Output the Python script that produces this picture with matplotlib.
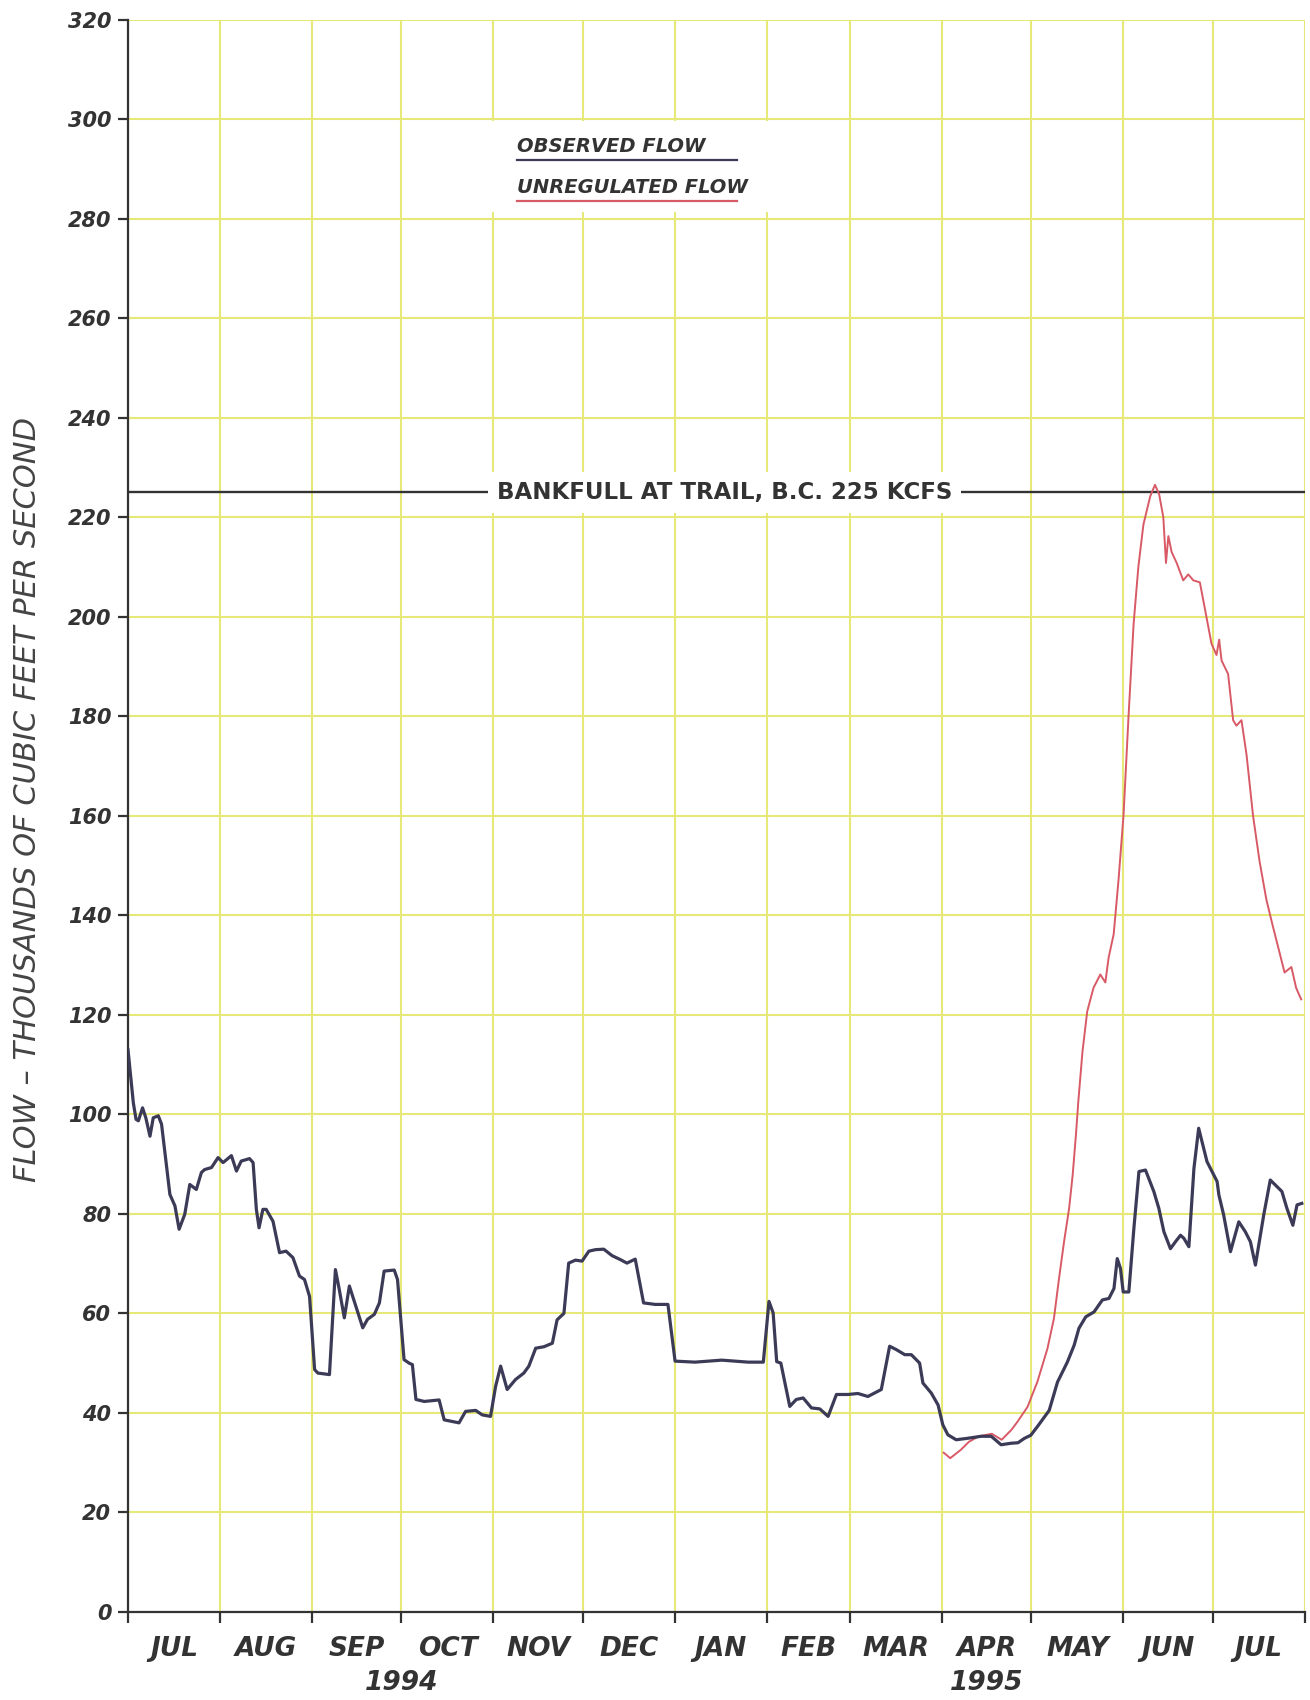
import numpy as np
import pandas as pd
import matplotlib
matplotlib.use('Agg')
import matplotlib.pyplot as plt
import matplotlib.transforms as mtransforms
from matplotlib.patches import Rectangle

# days are counted from 1 July 1994
recordStart = pd.Timestamp('1994-07-01')

obsDays = [0, 1.8, 2.7, 3.5, 4.9, 6.0, 7.4, 8.5, 10.2, 11.3, 14.1, 15.8, 17.2, 19.1, 20.8,
           23.0, 24.7, 25.8, 28.1, 30.3, 32.0, 34.8, 36.5, 38.1, 40.9, 42.1, 43.2, 44.1, 45.4,
           46.5, 48.8, 51.0, 53.2, 55.5, 57.7, 59.4, 61.1, 62.8, 63.9, 67.8, 69.8, 71.1, 72.8,
           74.5, 76.7, 79.0, 80.6, 82.9, 84.6, 86.2, 89.6, 90.7, 92.9, 94.6, 95.7, 96.9, 99.7,
           104.7, 106.4, 111.4, 113.6, 117.0, 119.2, 122.0, 123.7, 125.4, 127.6, 130.4, 133.2,
           134.9, 137.2, 140.0, 142.8, 144.4, 146.7, 148.3, 150.6, 152.8, 155.1, 157.3, 160.1,
           162.9, 165.7, 167.9, 170.7, 173.5, 177.4, 181.7, 184.1, 190.8, 199.8, 208.7, 213.8,
           215.7, 217.1, 218.3, 219.7, 222.7, 224.9, 227.2, 230.0, 232.8, 235.6, 238.4, 242.3,
           245.6, 249.0, 253.5, 256.3, 258.6, 261.4, 263.6, 266.4, 267.5, 270.3, 272.6, 274.2,
           275.9, 278.7, 282.6, 287.1, 290.5, 293.8, 297.2, 299.5, 301.7, 303.8, 306.1, 307.2,
           310.0, 312.8, 316.1, 318.4, 320.0, 322.3, 325.1, 327.9, 330.1, 331.8, 332.9, 334.0,
           334.9, 336.8, 338.5, 340.2, 342.4, 343.5, 345.2, 346.9, 348.6, 350.8, 352.5, 354.2,
           355.3, 357.0, 358.7, 360.3, 363.1, 364.8, 366.5, 367.1, 368.7, 371.0, 373.8, 376.0,
           377.7, 379.4, 382.2, 384.4, 386.1, 388.3, 390.0, 392.0, 393.4, 395.0]
obsFlow = [113, 102.3, 99, 98.7, 101.3, 99.3, 95.6, 99.3, 99.7, 98, 83.9, 81.6, 76.9, 79.9, 85.9,
           84.9, 88.3, 88.9, 89.3, 91.3, 90.3, 91.7, 88.6, 90.6, 91.1, 90.3, 80.9, 77.2, 80.9,
           80.9, 78.5, 72.2, 72.5, 71.2, 67.5, 66.8, 63.4, 48.7, 48, 47.7, 68.8, 64.8, 59.1,
           65.5, 61.4, 57.1, 58.8, 59.8, 62.1, 68.5, 68.7, 66.8, 50.7, 50, 49.7, 42.7, 42.3,
           42.6, 38.6, 38, 40.3, 40.5, 39.6, 39.3, 45.3, 49.4, 44.7, 46.7, 48,
           49.4, 53, 53.3, 54, 58.7, 60, 70.1, 70.7, 70.5, 72.5, 72.8, 72.9,
           71.6, 70.8, 70.1, 70.9, 62.1, 61.8, 61.8, 50.4, 50.2, 50.6, 50.2, 50.2,
           62.4, 60.1, 50.3, 50, 41.3, 42.7, 43, 41, 40.8, 39.3, 43.7, 43.7,
           43.9, 43.3, 44.7, 53.4, 52.7, 51.7, 51.7, 50, 46, 44, 41.6, 37.6,
           35.6, 34.6, 34.9, 35.3, 35.3, 33.6, 33.9, 34.0, 34.9, 35.5, 37.3, 38.2,
           40.5, 46.2, 50.2, 53.6, 57, 59.3, 60.3, 62.7, 63, 65, 71, 69,
           64.3, 64.3, 77.1, 88.5, 88.8, 87.1, 84.5, 81.1, 76.4, 73, 74.4, 75.7,
           75.1, 73.4, 89.1, 97.2, 90.5, 88.5, 86.5, 83.8, 79.8, 72.4, 78.4, 76.4,
           74.4, 69.7, 79.8, 86.8, 85.8, 84.5, 81.1, 77.7, 81.8, 82.1]

unregDays = [274.5, 276.7, 280.3, 283.0, 286.3, 290.7, 294.0, 297.3, 299.3, 302.7, 306.0, 309.4,
             311.6, 313.3, 315.0, 316.7, 317.9, 319.0, 319.8, 321.2, 322.8, 324.9, 327.2, 328.9,
             330.0, 331.7, 333.3, 335.0, 336.7, 338.4, 340.0, 341.7, 344.0, 345.6, 347.0, 348.4,
             349.3, 350.1, 351.2, 352.9, 355.1, 356.8, 358.5, 360.7, 362.9, 364.6, 366.3, 367.2,
             368.0, 370.2, 371.9, 373.0, 374.7, 376.4, 378.6, 380.8, 383.1, 385.3, 387.6, 389.2,
             391.5, 393.1, 394.8]
unregFlow = [32.0, 30.9, 32.6, 34.2, 35.3, 35.8, 34.6, 36.6, 38.2, 41.2, 46.2, 52.9,
             59, 67, 74.4, 81.1, 87.8, 95.9, 102.6, 112.6, 120.7, 125.4, 128.1, 126.5,
             131.5, 136.2, 146.9, 160, 180, 198.5, 210, 218.5, 224.2, 226.5, 224.6, 220,
             210.8, 216.2, 213, 210.8, 207.3, 208.5, 207.3, 206.9, 200, 194.6, 192.3, 195.4,
             191.2, 188.5, 179.2, 178.1, 179.2, 172.3, 160, 150.8, 143.1, 137.7, 132.3, 128.5,
             129.6, 125.4, 123.1]

monthLabels = ['JUL', 'AUG', 'SEP', 'OCT', 'NOV', 'DEC', 'JAN', 'FEB', 'MAR', 'APR', 'MAY', 'JUN', 'JUL']
yearLabels = {'1994': '1994-10-01', '1995': '1995-04-16'}
bankfullKcfs = 225

obsColor = '#3b3b58'
unregColor = '#d85a66'
gridColor = '#e6e878'
inkColor = '#333333'

obsDates = recordStart + pd.to_timedelta(obsDays, unit='D')
unregDates = recordStart + pd.to_timedelta(unregDays, unit='D')
monthStarts = pd.date_range('1994-07-01', '1995-08-01', freq='MS')
monthMids = monthStarts[:-1] + (monthStarts[1:] - monthStarts[:-1]) / 2

fig = plt.figure(figsize=(13.1, 17), dpi=100, facecolor='w')
ax = fig.add_axes([0.0977, 0.0518, 0.8983, 0.9367])
ax.set_xlim(monthStarts[0], monthStarts[-1])
ax.set_ylim(0, 320)

# yellow graph-paper grid
ax.set_axisbelow(True)
ax.set_xticks(monthStarts)
ax.set_yticks(np.arange(0, 321, 20))
ax.grid(True, color=gridColor, lw=1.5)

for side in ['top', 'right']:
    ax.spines[side].set_visible(False)
for side in ['left', 'bottom']:
    ax.spines[side].set_color(inkColor)
    ax.spines[side].set_linewidth(1.6)

tickFont = dict(family='DejaVu Sans', weight='bold', style='italic')
ax.tick_params(axis='x', which='major', direction='out', length=8, width=1.6,
               color=inkColor, labelbottom=False)
ax.set_xticks(monthMids, minor=True)
ax.set_xticklabels(monthLabels, minor=True, fontsize=19, color=inkColor, **tickFont)
ax.tick_params(axis='x', which='minor', length=0, pad=17)
ax.tick_params(axis='y', direction='out', length=7, width=1.6, color=inkColor, pad=5)
ax.set_yticklabels([str(v) for v in range(0, 321, 20)], fontsize=15, color=inkColor, **tickFont)

xTrans = mtransforms.blended_transform_factory(ax.transData, ax.transAxes)
for txt, when in yearLabels.items():
    ax.text(pd.Timestamp(when), -0.0445, txt, transform=xTrans, ha='center', va='center',
            fontsize=19, color=inkColor, clip_on=False, **tickFont)

ax.set_ylabel('FLOW \u2013 THOUSANDS OF CUBIC FEET PER SECOND', fontsize=22, style='italic',
              color='#444444')
ax.yaxis.set_label_coords(-0.073, 0.51)

# bankfull reference line
ax.axhline(bankfullKcfs, color=inkColor, lw=1.7, zorder=3)
ax.text(0.5069, bankfullKcfs, 'BANKFULL AT TRAIL, B.C. 225 KCFS',
        transform=mtransforms.blended_transform_factory(ax.transAxes, ax.transData),
        ha='center', va='center', fontsize=16.5, weight='bold', color=inkColor, zorder=4,
        bbox=dict(boxstyle='square,pad=0.4', fc='w', ec='none'))

ax.plot(unregDates, unregFlow, color=unregColor, lw=1.4, zorder=5)
ax.plot(obsDates, obsFlow, color=obsColor, lw=2.3, zorder=6)

# legend block
ax.add_patch(Rectangle((0.3076, 0.8794), 0.2379, 0.0566, transform=ax.transAxes,
                       fc='w', ec='none', zorder=2))
legendItems = [('OBSERVED FLOW', obsColor, 0.9205, 0.9115),
               ('UNREGULATED FLOW', unregColor, 0.8945, 0.8858)]
for label, color, ty, ly in legendItems:
    ax.text(0.3305, ty, label, transform=ax.transAxes, ha='left', va='center',
            fontsize=14, color=inkColor, zorder=7, **tickFont)
    ax.plot([0.3305, 0.5174], [ly, ly], transform=ax.transAxes, color=color, lw=1.6, zorder=7)

fig.savefig('out.png', dpi=100, facecolor='w')
